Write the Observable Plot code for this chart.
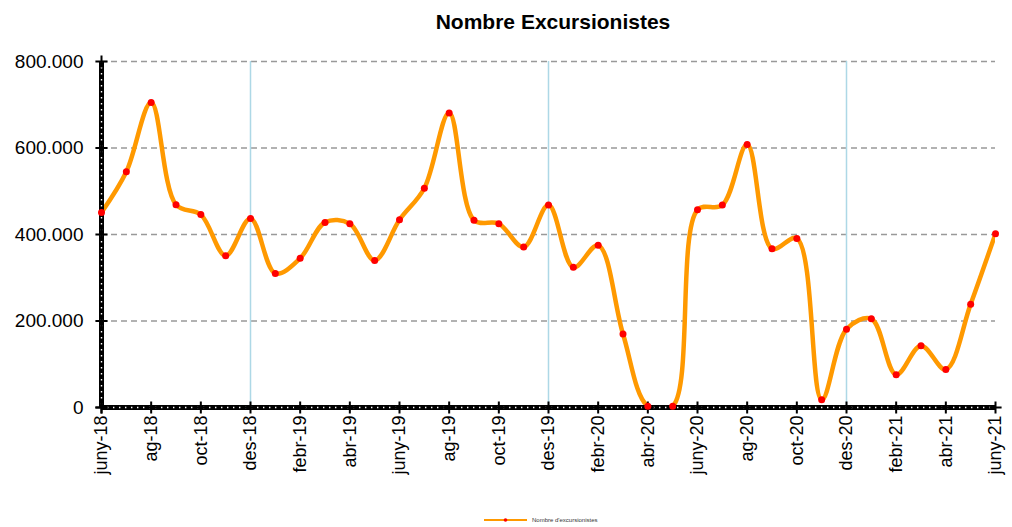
<!DOCTYPE html>
<html>
<head>
<meta charset="utf-8">
<script src="https://cdn.jsdelivr.net/npm/d3@7"></script>
<script src="https://cdn.jsdelivr.net/npm/@observablehq/plot@0.6"></script>
<style>
  html, body { margin: 0; padding: 0; background: #fff; }
  #wrap { position: relative; width: 1012px; height: 527px; font-family: "Liberation Sans", Arial, sans-serif; }
  #title { position: absolute; top: 10px; left: 553px; transform: translateX(-50%); font-weight: bold; font-size: 21px; color: #000; white-space: nowrap; }
  #legend { position: absolute; top: 516px; left: 484px; display: flex; align-items: center; font-size: 6px; color: #333; white-space: nowrap; }
  #chart { position: absolute; top: 0; left: 0; }
</style>
</head>
<body>
<div id="wrap">
  <div id="chart"></div>
  <div id="title">Nombre Excursionistes</div>
  <div id="legend"><svg width="44" height="8"><line x1="0" y1="4" x2="43" y2="4" stroke="#FF9900" stroke-width="2"/><circle cx="21.5" cy="4" r="1.8" fill="#FF0000"/></svg><span style="margin-left:4px">Nombre d'excursionistes</span></div>
</div>
<script>
const months = [
  "juny-18","jul-18","ag-18","set-18","oct-18","nov-18","des-18",
  "gen-19","febr-19","març-19","abr-19","maig-19","juny-19","jul-19","ag-19","set-19","oct-19","nov-19","des-19",
  "gen-20","febr-20","març-20","abr-20","maig-20","juny-20","jul-20","ag-20","set-20","oct-20","nov-20","des-20",
  "gen-21","febr-21","març-21","abr-21","maig-21","juny-21"
];
const excursionistes = [
  451000, 545000, 705000, 469000, 446000, 351000, 437000,
  310000, 345000, 428000, 425000, 340000, 434000, 507000, 681000, 433000, 425000, 371000, 468000,
  324000, 375000, 170000, 3000, 3000, 457000, 468000, 608000, 367000, 391000, 18000, 181000,
  205000, 76000, 143000, 88000, 239000, 402000
];
const yTicks = [0, 200000, 400000, 600000, 800000];
const gridTicks = [200000, 400000, 600000, 800000];
const xTickLabels = months.filter((d, i) => i % 2 === 0);
const yearMarks = ["des-18", "des-19", "des-20"];

const data = months.map((m, i) => ({i, month: m, value: excursionistes[i]}));
const xTicks = xTickLabels.map(m => months.indexOf(m));
const fmt = d3.formatLocale({decimal: ",", thousands: ".", grouping: [3], currency: ["", "€"]}).format(",d");

const chart = Plot.plot({
  width: 1012,
  height: 527,
  marginLeft: 101,
  marginRight: 17,
  marginTop: 61,
  marginBottom: 120,
  style: {fontFamily: "'Liberation Sans', Arial, sans-serif", background: "transparent", color: "#000"},
  x: {type: "linear", domain: [0, months.length - 1]},
  y: {domain: [0, 800000]},
  marks: [
    Plot.ruleY(gridTicks, {stroke: "#999", strokeWidth: 1.5, strokeDasharray: "6,4"}),
    Plot.ruleX(yearMarks.map(m => months.indexOf(m)), {stroke: "#add8e6", strokeWidth: 1.5}),
    Plot.axisY({ticks: yTicks, tickFormat: fmt, tickSize: 0, tickPadding: 18, fontSize: 19, label: null}),
    Plot.axisX({ticks: xTicks, tickFormat: i => months[i], tickSize: 0, tickPadding: 8, tickRotate: -90, fontSize: 18, label: null}),
    Plot.line(data, {x: "i", y: "value", stroke: "#FF9900", strokeWidth: 4.5, curve: "catmull-rom", clip: true}),
    Plot.ruleY([0], {stroke: "#000", strokeWidth: 5}),
    Plot.ruleY([0], {stroke: "#fff", strokeWidth: 1.4, strokeDasharray: "1.4,4.6"}),
    Plot.ruleX([0], {stroke: "#000", strokeWidth: 5}),
    Plot.ruleX([0], {stroke: "#fff", strokeWidth: 1.4, strokeDasharray: "1.4,4.6"}),
    Plot.dot(xTicks, {x: d => d, y: () => 0, symbol: "plus", r: 4, stroke: "#000", strokeWidth: 2}),
    Plot.dot(yTicks, {x: () => 0, y: d => d, symbol: "plus", r: 4, stroke: "#000", strokeWidth: 2}),
    Plot.dot(data, {x: "i", y: "value", r: 3.5, fill: "#FF0000"})
  ]
});
document.getElementById("chart").appendChild(chart);
</script>
</body>
</html>
